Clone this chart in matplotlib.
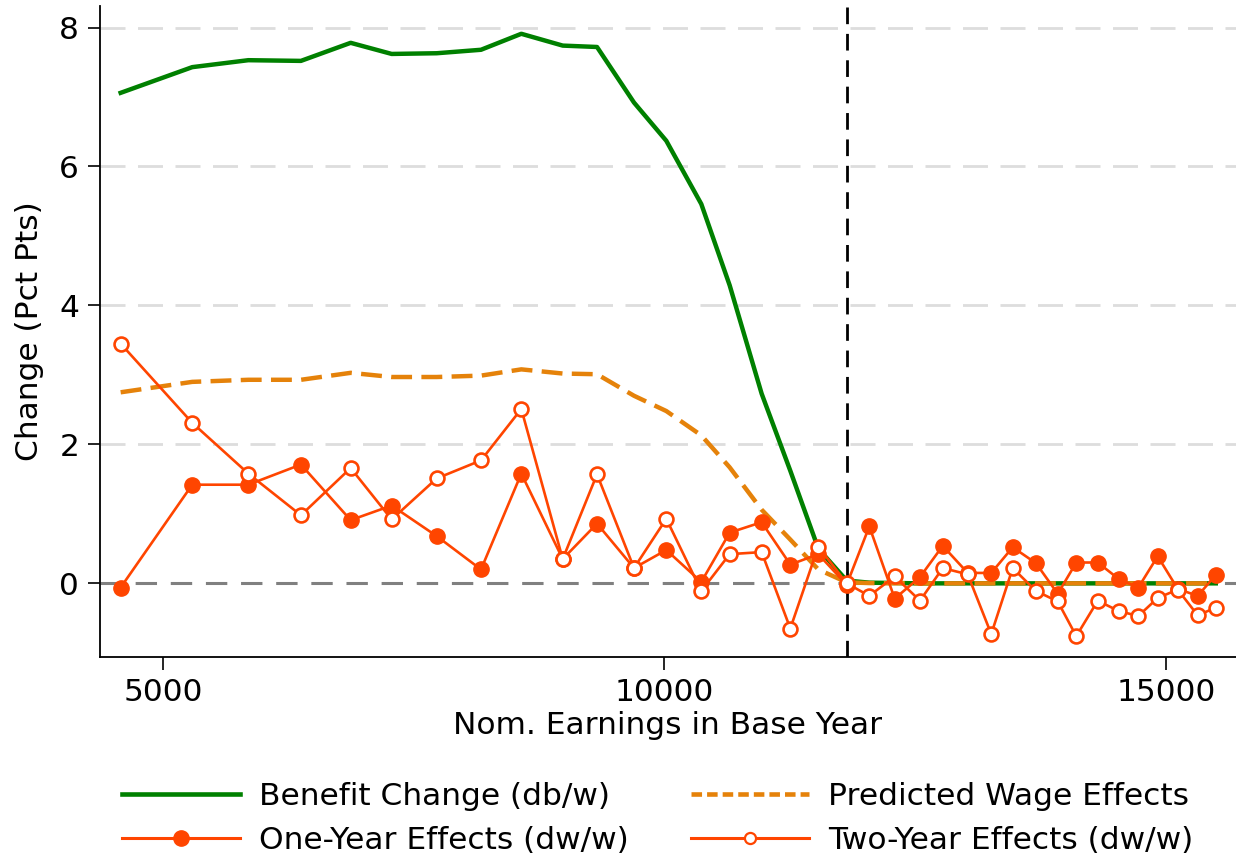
import matplotlib
matplotlib.use("Agg")
import matplotlib.pyplot as plt
from matplotlib.lines import Line2D

# ---------------- data ----------------
earnings = [4576, 5290, 5849, 6374, 6870, 7279, 7728, 8170, 8572, 8985,
            9327, 9696, 10018, 10367, 10650, 10969, 11255, 11534, 11817, 12043,
            12296, 12548, 12775, 13024, 13259, 13473, 13705, 13922, 14107, 14321,
            14533, 14726, 14919, 15119, 15318, 15498]

benefit_change = [7.06, 7.43, 7.53, 7.52, 7.78, 7.62, 7.63, 7.68, 7.91, 7.74,
                  7.72, 6.92, 6.37, 5.46, 4.29, 2.73, 1.62, 0.50, 0.04, 0.01,
                  0.005, 0.0, 0.0, 0.0, 0.0, 0.0, 0.0, 0.0, 0.0, 0.0,
                  0.0, 0.0, 0.0, 0.0, 0.0, 0.0]

predicted_wage = [2.75, 2.90, 2.93, 2.93, 3.03, 2.97, 2.97, 2.99, 3.08, 3.02,
                  3.01, 2.70, 2.48, 2.13, 1.67, 1.06, 0.63, 0.20, 0.015, 0.004,
                  0.002, 0.0, 0.0, 0.0, 0.0, 0.0, 0.0, 0.0, 0.0, 0.0,
                  0.0, 0.0, 0.0, 0.0, 0.0, 0.0]

one_year = [-0.06, 1.42, 1.42, 1.71, 0.91, 1.12, 0.68, 0.20, 1.58, 0.35,
            0.86, 0.22, 0.48, 0.02, 0.73, 0.88, 0.27, 0.42, -0.02, 0.82,
            -0.22, 0.09, 0.54, 0.15, 0.15, 0.52, 0.29, -0.15, 0.30, 0.30,
            0.06, -0.06, 0.39, -0.08, -0.18, 0.12]

two_year = [3.45, 2.31, 1.58, 0.98, 1.66, 0.92, 1.51, 1.77, 2.51, 0.35,
            1.57, 0.22, 0.93, -0.11, 0.42, 0.45, -0.65, 0.53, 0.0, -0.18,
            0.10, -0.25, 0.22, 0.13, -0.73, 0.22, -0.11, -0.26, -0.76, -0.25,
            -0.40, -0.47, -0.21, -0.09, -0.46, -0.35]

cutoff = 11820
xticks = [5000, 10000, 15000]
yticks = [0, 2, 4, 6, 8]

labels = ["Benefit Change (db/w)", "Predicted Wage Effects",
          "One-Year Effects (dw/w)", "Two-Year Effects (dw/w)"]

# ---------------- style ----------------
GREEN = "#008000"
ORANGE = "#E5820A"
RED = "#FF4500"
FS = 22.5

plt.rcParams["font.family"] = ["DejaVu Sans"]
plt.rcParams["font.size"] = FS

fig = plt.figure(figsize=(12.36, 8.58), dpi=100)
ax = fig.add_axes([100 / 1236, 1 - 657 / 858, 1 - 100 / 1236, (657 - 6) / 858])

# grid lines
for yt in yticks[1:]:
    ax.axhline(yt, color="#dddddd", lw=2, dashes=(9, 4.5), zorder=0)
ax.axhline(0, color="#808080", lw=2.2, dashes=(7, 4.5), zorder=1)
ax.axvline(cutoff, color="black", lw=2, dashes=(6, 3.5), zorder=1)

l_ben, = ax.plot(earnings, benefit_change, color=GREEN, lw=3.2, zorder=3)
l_pred, = ax.plot(earnings, predicted_wage, color=ORANGE, lw=3.2,
                  dashes=(4.7, 2.1), zorder=3)
l_one, = ax.plot(earnings, one_year, color=RED, lw=1.9, marker="o",
                 markersize=11, markerfacecolor=RED, markeredgecolor=RED, zorder=4)
l_two, = ax.plot(earnings, two_year, color=RED, lw=1.9, marker="o",
                 markersize=10, markerfacecolor="white", markeredgecolor=RED,
                 markeredgewidth=1.9, zorder=4)

ax.set_xlim(4370, 15700)
ax.set_ylim(-1.06, 8.31)
ax.set_xticks(xticks)
ax.set_yticks(yticks)
ax.tick_params(axis="both", direction="out", length=9, width=1.2, pad=6,
               labelsize=FS)
for s in ["top", "right"]:
    ax.spines[s].set_visible(False)
for s in ["left", "bottom"]:
    ax.spines[s].set_linewidth(1.3)

ax.set_xlabel("Nom. Earnings in Base Year", fontsize=FS, labelpad=3)
ax.set_ylabel("Change (Pct Pts)", fontsize=FS, labelpad=11)

handles = [
    Line2D([], [], color=GREEN, lw=3.3),
    Line2D([], [], color=ORANGE, lw=3.3, dashes=(2.3, 1.1)),
    Line2D([], [], color=RED, lw=2.2, marker="o", markersize=11,
           markerfacecolor=RED, markeredgecolor=RED),
    Line2D([], [], color=RED, lw=2.2, marker="o", markersize=8,
           markerfacecolor="white", markeredgecolor=RED, markeredgewidth=1.6),
]
# two columns filled column-wise: col1 = Benefit, One-Year ; col2 = Predicted, Two-Year
order = [0, 2, 1, 3]
fig.legend([handles[i] for i in order], [labels[i] for i in order],
           loc="upper center", bbox_to_anchor=(0.532, 1 - 766 / 858), ncol=2,
           frameon=False, fontsize=FS, handlelength=3.78, handletextpad=0.6,
           columnspacing=2.0, labelspacing=0.5, borderpad=0)

fig.savefig("out.png", dpi=100)
